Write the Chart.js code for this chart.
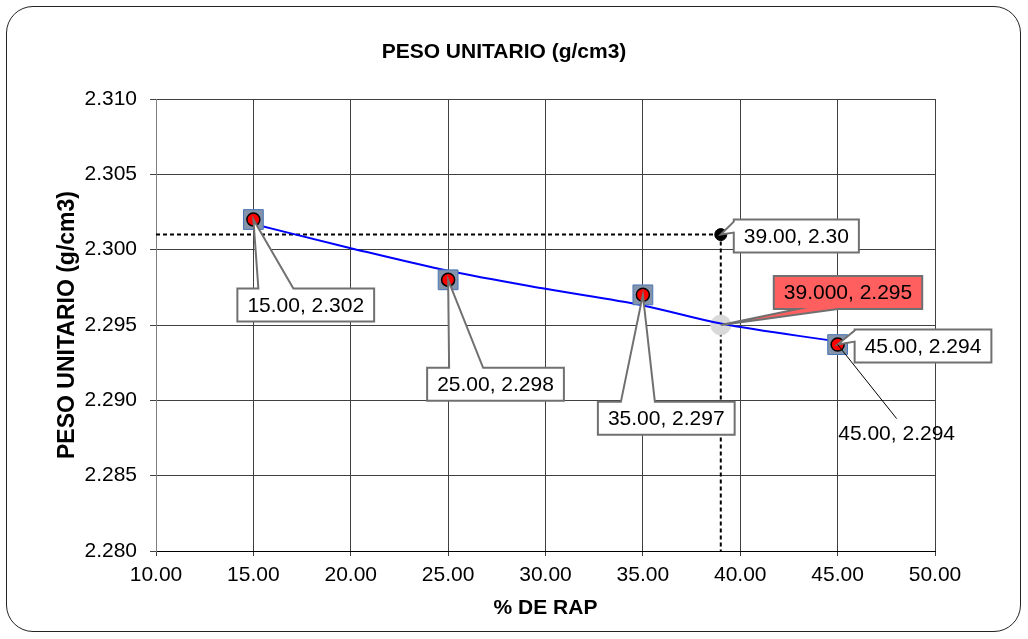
<!DOCTYPE html>
<html>
<head>
<meta charset="utf-8">
<title>PESO UNITARIO (g/cm3)</title>
<script src="https://cdn.jsdelivr.net/npm/chart.js@4"></script>
<style>
    body { margin: 0; background: #fff; }
    #wrap { position: relative; width: 1028px; height: 639px; }
    #frame {
        position: absolute; left: 6px; top: 6px; width: 1015px; height: 626px;
        border: 1px solid #222; border-radius: 27px; box-sizing: border-box;
    }
    #chart { position: absolute; left: 0; top: 0; }
</style>
</head>
<body>
<div id="wrap">
    <div id="frame"></div>
    <canvas id="chart" width="1028" height="639"></canvas>
</div>
<script>
// % de RAP vs peso unitario, ensayos
const rapPct = [15, 25, 35, 45];
const pesoUnitario = [2.302, 2.298, 2.297, 2.2937];

// curva de tendencia
const trendX = [15, 20, 25, 30, 35, 39, 45];
const trendY = [2.3017, 2.3001, 2.2986, 2.2974, 2.2963, 2.2951, 2.2939];

// punto de diseño y valor de la tendencia en ese % de RAP
const designRap = 39;
const designPeso = 2.301;
const trendAtDesign = 2.295;

const xTicks = { min: 10, max: 50, step: 5 };
const yTicks = { min: 2.28, max: 2.31, step: 0.005 };

const FONT = '"Liberation Sans", Arial, sans-serif';

const pts = rapPct.map((x, i) => ({ x: x, y: pesoUnitario[i] }));
const trend = trendX.map((x, i) => ({ x: x, y: trendY[i] }));

// callouts: box offset from the point (px), which side the pointer leaves from
const callouts = [
    { x: rapPct[0], y: pesoUnitario[0], dec: [2, 3], bx: -16, by: 69, side: 'top', base: [21, 56] },
    { x: rapPct[1], y: pesoUnitario[1], dec: [2, 3], bx: -21, by: 88, side: 'top', base: [22, 56] },
    { x: rapPct[2], y: pesoUnitario[2], dec: [2, 3], bx: -45, by: 107, side: 'top', base: [23, 57] },
    { x: rapPct[3], y: pesoUnitario[3], dec: [2, 3], bx: 17, by: -15, side: 'left', base: [1, 12] },
    { x: rapPct[3], y: pesoUnitario[3], dec: [2, 3], bx: 59, by: 90, side: 'none', lead: [59, 74] },
    { x: designRap, y: designPeso, dec: [2, 2], bx: 13, by: -15, side: 'left', base: [2, 13] },
    { x: designRap, y: trendAtDesign, dec: [3, 3], bx: 53, by: -49, side: 'bottom', base: [24, 64], fill: '#ff5f5f' }
];

const calloutPlugin = {
    id: 'callouts',
    afterDatasetsDraw(chart) {
        const ctx = chart.ctx;
        const sx = chart.scales.x, sy = chart.scales.y;
        ctx.save();
        ctx.font = '21px ' + FONT;
        callouts.forEach(c => {
            const ax = sx.getPixelForValue(c.x);
            const ay = sy.getPixelForValue(c.y);
            const text = c.x.toFixed(c.dec[0]) + ', ' + c.y.toFixed(c.dec[1]);
            const tw = ctx.measureText(text).width;

            if (c.side === 'none') {
                ctx.strokeStyle = '#000';
                ctx.lineWidth = 1;
                ctx.beginPath();
                ctx.moveTo(ax, ay);
                ctx.lineTo(ax + c.lead[0], ay + c.lead[1]);
                ctx.stroke();
                ctx.fillStyle = '#000';
                ctx.textAlign = 'center';
                ctx.textBaseline = 'middle';
                ctx.fillText(text, ax + c.bx, ay + c.by);
                return;
            }

            const w = tw + 20, h = 33;
            const L = ax + c.bx, T = ay + c.by, R = L + w, B = T + h;
            ctx.beginPath();
            if (c.side === 'top') {
                ctx.moveTo(L, T);
                ctx.lineTo(L + c.base[0], T);
                ctx.lineTo(ax, ay);
                ctx.lineTo(L + c.base[1], T);
                ctx.lineTo(R, T);
                ctx.lineTo(R, B);
                ctx.lineTo(L, B);
            } else if (c.side === 'left') {
                ctx.moveTo(L, T);
                ctx.lineTo(R, T);
                ctx.lineTo(R, B);
                ctx.lineTo(L, B);
                ctx.lineTo(L, T + c.base[1]);
                ctx.lineTo(ax, ay);
                ctx.lineTo(L, T + c.base[0]);
            } else {
                ctx.moveTo(L, T);
                ctx.lineTo(R, T);
                ctx.lineTo(R, B);
                ctx.lineTo(L + c.base[1], B);
                ctx.lineTo(ax, ay);
                ctx.lineTo(L + c.base[0], B);
                ctx.lineTo(L, B);
            }
            ctx.closePath();
            ctx.fillStyle = c.fill || '#fff';
            ctx.fill();
            ctx.strokeStyle = '#707070';
            ctx.lineWidth = 2;
            ctx.lineJoin = 'miter';
            ctx.stroke();

            ctx.fillStyle = '#000';
            ctx.textAlign = 'center';
            ctx.textBaseline = 'middle';
            ctx.fillText(text, (L + R) / 2, (T + B) / 2 + 1);
        });

        // chart title
        ctx.font = 'bold 21px ' + FONT;
        ctx.textAlign = 'center';
        ctx.textBaseline = 'alphabetic';
        ctx.fillText('PESO UNITARIO (g/cm3)', 504, 58);
        ctx.restore();
    }
};

const gridColor = '#404040';

new Chart(document.getElementById('chart').getContext('2d'), {
    type: 'scatter',
    data: {
        datasets: [
            {
                // red markers
                data: pts,
                pointStyle: 'circle',
                pointRadius: 6.5,
                pointBackgroundColor: '#ff0000',
                pointBorderColor: '#000',
                pointBorderWidth: 1.5,
                order: 1
            },
            {
                // square markers behind them
                data: pts,
                pointStyle: 'rect',
                pointRadius: 14,
                pointBackgroundColor: '#8494aa',
                pointBorderColor: '#4a76b8',
                pointBorderWidth: 1,
                order: 2
            },
            {
                data: [{ x: designRap, y: designPeso }],
                pointRadius: 6,
                pointBackgroundColor: '#000',
                pointBorderColor: '#000',
                order: 3
            },
            {
                data: trend,
                showLine: true,
                borderColor: '#0000ff',
                borderWidth: 2,
                pointRadius: 0,
                cubicInterpolationMode: 'monotone',
                order: 4
            },
            {
                data: [{ x: designRap, y: trendAtDesign }],
                pointRadius: 10,
                pointBackgroundColor: '#d9d9d9',
                pointBorderColor: '#d9d9d9',
                order: 5
            },
            {
                data: [{ x: xTicks.min, y: designPeso }, { x: designRap, y: designPeso }],
                showLine: true,
                borderColor: '#000',
                borderWidth: 2,
                borderDash: [4, 3],
                pointRadius: 0,
                order: 6
            },
            {
                data: [{ x: designRap, y: designPeso }, { x: designRap, y: yTicks.min }],
                showLine: true,
                borderColor: '#000',
                borderWidth: 2,
                borderDash: [4, 3],
                pointRadius: 0,
                order: 7
            }
        ]
    },
    options: {
        responsive: false,
        animation: false,
        devicePixelRatio: 1,
        events: [],
        layout: { padding: { top: 99, right: 93, left: 0, bottom: 0 } },
        plugins: {
            legend: { display: false },
            tooltip: { enabled: false },
            title: { display: false }
        },
        scales: {
            x: {
                type: 'linear',
                min: xTicks.min,
                max: xTicks.max,
                afterFit: s => { s.height = 88; },
                ticks: {
                    stepSize: xTicks.step,
                    color: '#000',
                    padding: 7,
                    font: { family: FONT, size: 21 },
                    callback: v => v.toFixed(2)
                },
                grid: { color: gridColor, tickColor: gridColor, tickLength: 5, lineWidth: 1 },
                border: { color: '#000' },
                title: {
                    display: true,
                    text: '% DE RAP',
                    color: '#000',
                    font: { family: FONT, size: 21, weight: 'bold' },
                    padding: { top: 0, bottom: 18 }
                }
            },
            y: {
                type: 'linear',
                min: yTicks.min,
                max: yTicks.max,
                afterFit: s => { s.width = 156; },
                ticks: {
                    stepSize: yTicks.step,
                    color: '#000',
                    padding: 13,
                    font: { family: FONT, size: 21 },
                    callback: v => v.toFixed(3)
                },
                grid: { color: gridColor, tickColor: gridColor, tickLength: 6, lineWidth: 1 },
                border: { color: '#7f7f7f' },
                title: {
                    display: true,
                    text: 'PESO UNITARIO (g/cm3)',
                    color: '#000',
                    font: { family: FONT, size: 23, weight: 'bold' },
                    padding: { top: 54, bottom: 0 }
                }
            }
        }
    },
    plugins: [calloutPlugin]
});
</script>
</body>
</html>
